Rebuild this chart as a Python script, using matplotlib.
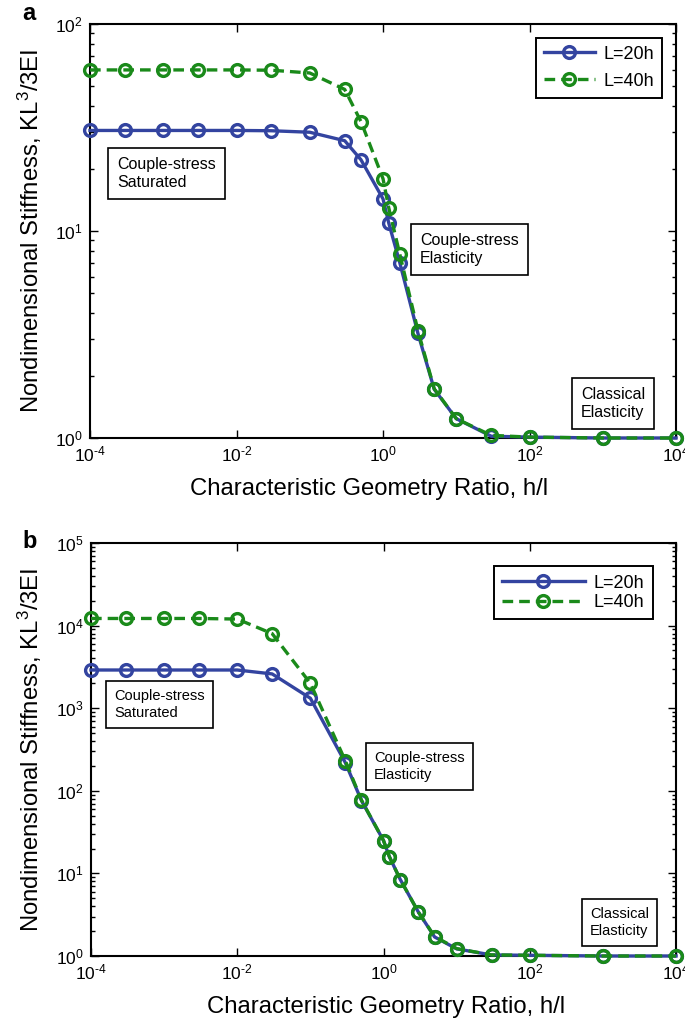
import matplotlib
matplotlib.use("Agg")
import numpy as np
import matplotlib.pyplot as plt
from matplotlib.ticker import FixedLocator, NullLocator, LogLocator, NullFormatter, FuncFormatter

plt.rcParams['font.family'] = ['Liberation Sans', 'DejaVu Sans']
plt.rcParams['mathtext.fontset'] = 'custom'
plt.rcParams['mathtext.rm'] = 'Liberation Sans'
plt.rcParams['mathtext.it'] = 'Liberation Sans'
plt.rcParams['mathtext.default'] = 'regular'

# h/l values (shared by both panels)
ratio = [1e-4, 3e-4, 1e-3, 3e-3, 1e-2, 3e-2, 0.1, 0.3, 0.5, 1.0, 1.2, 1.7, 3.0, 5.0, 10.0, 30.0, 100.0, 1000.0, 1e4]

# panel a
stiff_a_20h = [30.6, 30.6, 30.6, 30.6, 30.6, 30.5, 30.0, 27.3, 22.1, 14.3, 10.9, 7.0, 3.2, 1.72, 1.24, 1.02, 1.01, 1.0, 1.0]
stiff_a_40h = [60.0, 60.0, 60.0, 60.0, 60.0, 59.8, 58.0, 48.3, 33.8, 17.9, 12.9, 7.7, 3.3, 1.73, 1.24, 1.03, 1.01, 1.0, 1.0]

# panel b
stiff_b_20h = [2900, 2900, 2900, 2900, 2900, 2600, 1320, 220, 76, 25, 16, 8.4, 3.4, 1.7, 1.22, 1.03, 1.02, 1.0, 1.0]
stiff_b_40h = [12200, 12200, 12200, 12200, 12000, 8000, 2000, 232, 77, 25, 16, 8.4, 3.4, 1.72, 1.23, 1.03, 1.02, 1.0, 1.0]

legend_labels = ["L=20h", "L=40h"]
blue = "#3344a0"
green = "#1a8a1a"

fig = plt.figure(figsize=(6.85, 10.24), dpi=100)
W, H = 685.0, 1024.0


def make_axes(left, top, right, bottom):
    return fig.add_axes([left / W, 1 - bottom / H, (right - left) / W, (bottom - top) / H])


def pow10(v, pos):
    e = int(round(np.log10(v)))
    s = str(e).replace("-", "\u2010")
    return "$10^{%s}$" % s


def style(ax, ylim, yticks, box, xlab_cx):
    left, top, right, bottom = box
    ax.set_xscale("log")
    ax.set_yscale("log")
    ax.set_xlim(1e-4, 1e4)
    ax.set_ylim(*ylim)
    ax.xaxis.set_major_locator(FixedLocator([1e-4, 1e-2, 1, 1e2, 1e4]))
    ax.xaxis.set_minor_locator(NullLocator())
    ax.xaxis.set_major_formatter(FuncFormatter(pow10))
    ax.yaxis.set_major_locator(FixedLocator(yticks))
    ax.yaxis.set_major_formatter(FuncFormatter(pow10))
    ax.yaxis.set_minor_locator(LogLocator(base=10, subs=range(2, 10)))
    ax.yaxis.set_minor_formatter(NullFormatter())
    ax.tick_params(which="both", direction="in", top=True, right=True, labelsize=12.5, width=1.0)
    ax.tick_params(which="major", length=6)
    ax.tick_params(which="minor", length=3)
    ax.tick_params(axis="x", pad=5)
    ax.tick_params(axis="y", pad=5)
    for s in ax.spines.values():
        s.set_linewidth(1.5)
    ax.set_xlabel("Characteristic Geometry Ratio, h/l", fontsize=17.2)
    ax.set_ylabel("Nondimensional Stiffness, KL$^3$/3EI", fontsize=17.2)
    h = bottom - top
    w = right - left
    ax.xaxis.set_label_coords((xlab_cx - left) / w, -51.0 / h)
    ax.xaxis.label.set_va("center")
    ax.yaxis.set_label_coords(-(left - 30.0) / w, 0.5)
    ax.yaxis.label.set_va("center")


def draw(ax, y20, y40, handlelen, spacing, pad):
    ax.plot(ratio, y20, color=blue, lw=2.4, marker="o", ms=8.5, mfc="none", mew=2.4,
            label=legend_labels[0], clip_on=False, zorder=3)
    ax.plot(ratio, y40, color=green, lw=2.4, ls=(0, (3.2, 1.8)), marker="o", ms=8.5, mfc="none",
            mew=2.4, label=legend_labels[1], clip_on=False, zorder=4)
    leg = ax.legend(loc="upper right", fontsize=13, fancybox=False, edgecolor="black",
                    framealpha=1, borderaxespad=pad, handlelength=handlelen,
                    labelspacing=spacing, borderpad=0.45, handletextpad=0.5)
    leg.get_frame().set_linewidth(1.4)
    return leg


def note(ax, px, py, txt, fs, left, top, right, bottom):
    ax.text((px - left) / (right - left), 1 - (py - top) / (bottom - top), txt,
            transform=ax.transAxes, fontsize=fs, va="top", ha="left", linespacing=1.25,
            bbox=dict(boxstyle="square,pad=0.55", fc="white", ec="black", lw=1.2))


# ---- panel a
A = (90, 24, 676, 438)
ax1 = make_axes(*A)
style(ax1, (1, 100), [1, 10, 100], A, 369)
draw(ax1, stiff_a_20h, stiff_a_40h, 2.8, 0.55, 0.75)
note(ax1, 117, 157, "Couple-stress\nSaturated", 11.5, *A)
note(ax1, 420, 233, "Couple-stress\nElasticity", 11.5, *A)
note(ax1, 581, 387, "Classical\nElasticity", 11.5, *A)
fig.text(22 / W, 1 - 13 / H, "a", fontsize=17, fontweight="bold", va="center", ha="left")

# ---- panel b
B = (91, 543, 676, 956)
ax2 = make_axes(*B)
style(ax2, (1, 1e5), [1, 10, 100, 1e3, 1e4, 1e5], B, 386)
draw(ax2, stiff_b_20h, stiff_b_40h, 4.6, 0.15, 1.3)
note(ax2, 114, 689, "Couple-stress\nSaturated", 10.5, *B)
note(ax2, 374, 751, "Couple-stress\nElasticity", 10.5, *B)
note(ax2, 590, 907, "Classical\nElasticity", 10.5, *B)
fig.text(22 / W, 1 - 542 / H, "b", fontsize=17, fontweight="bold", va="center", ha="left")

fig.savefig("out.png", dpi=100)
